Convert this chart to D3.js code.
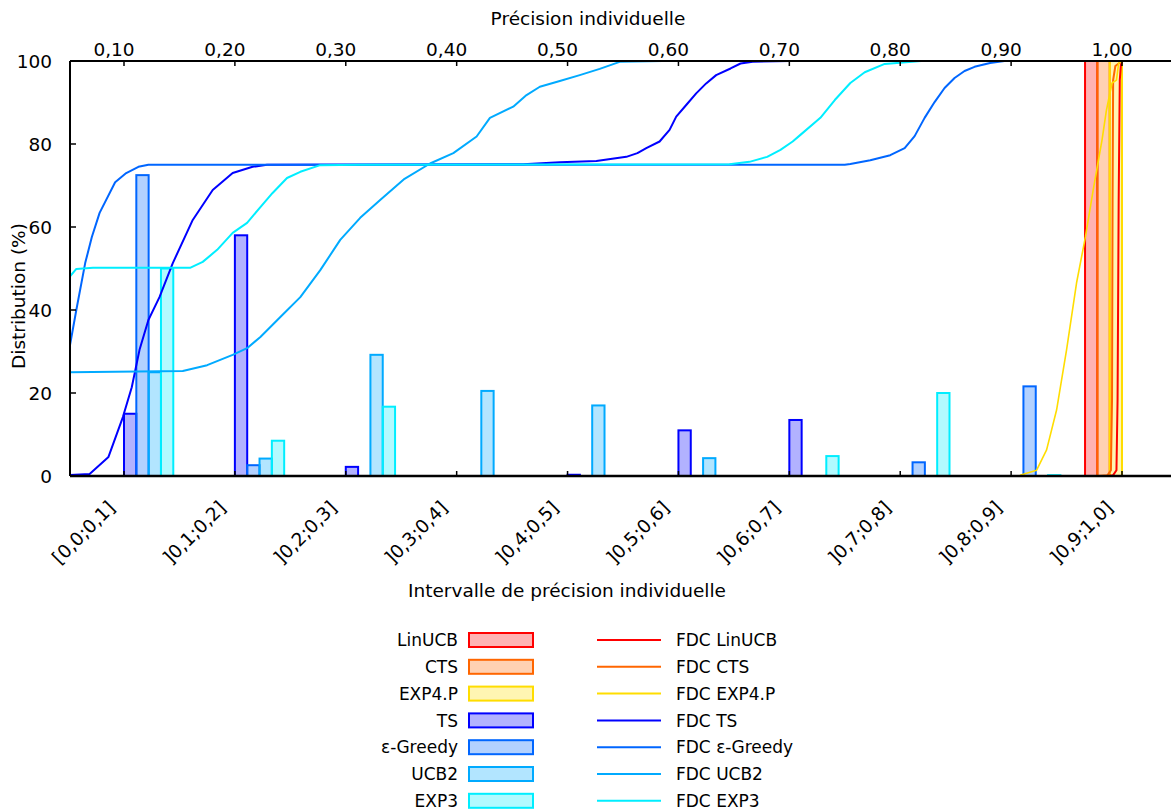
<!DOCTYPE html>
<html><head><meta charset="utf-8">
<script src="https://cdn.jsdelivr.net/npm/d3@7/dist/d3.min.js"></script>
<style>body{margin:0;background:#fff;} text{font-family:"DejaVu Sans",sans-serif;fill:#000;}</style>
</head><body>
<svg id="c" width="1171" height="812"></svg>
<script>
// ---------- DATA ----------
const categories = ["[0,0;0,1]","]0,1;0,2]","]0,2;0,3]","]0,3;0,4]","]0,4;0,5]","]0,5;0,6]","]0,6;0,7]","]0,7;0,8]","]0,8;0,9]","]0,9;1,0]"];
const seriesNames = ["LinUCB","CTS","EXP4.P","TS","ε-Greedy","UCB2","EXP3"];
const seriesColors = ["#ff0000","#ff6600","#ffdd00","#0000ff","#0066ff","#00aaff","#00eeff"];
const barLinUCB = [0,0,0,0,0,0,0,0,0,100];
const barCTS    = [0,0,0,0,0,0,0,0,0,100];
const barEXP4P  = [0,0,0,0,0,0,0,0,0,100];
const barTS     = [15,58,2.2,0,0.3,11,13.5,0,0,0];
const barEps    = [72.5,2.6,0,0,0,0,0,3.3,21.6,0];
const barUCB2   = [25,4.2,29.2,20.5,17,4.3,0,0,0,0];
const barEXP3   = [50,8.5,16.7,0,0,0,4.8,20,0.2,0];

// FDC curves: [precision, cumulative %]
const fdcLinUCB = [[0.985,0],[0.992,0.2],[0.995,1.4],[0.996,18.3],[0.997,66.5],[0.998,95.4],[0.999,99],[1.0,100]];
const fdcCTS    = [[0.978,0],[0.987,0.2],[0.990,1.4],[0.991,18.3],[0.9915,66.5],[0.992,95.4],[0.994,98.8],[1.0,100]];
const fdcEXP4P  = [[0.908,0.2],[0.923,1.4],[0.932,6.3],[0.941,15.9],[0.950,30.4],[0.959,46.5],[0.967,57.6],[0.974,68.9],[0.982,81],[0.986,88.2],[0.991,94.7],[0.995,95.4],[0.997,99.5],[1.0,100]];
const fdcTS     = [[0.050,0.2],[0.069,0.5],[0.086,4.6],[0.099,14.2],[0.107,21.4],[0.114,30.4],[0.122,37.6],[0.132,43.1],[0.144,51.3],[0.162,61.7],[0.180,68.9],[0.198,73],[0.216,74.5],[0.229,75],[0.460,75.1],[0.493,75.6],[0.526,75.9],[0.553,76.9],[0.563,77.8],[0.571,79],[0.583,80.6],[0.592,83.4],[0.598,86.6],[0.607,89.4],[0.616,92.2],[0.625,94.6],[0.634,96.6],[0.647,98.2],[0.656,99.4],[0.667,99.8],[0.700,100]];
const fdcEps    = [[0.050,29.6],[0.057,40],[0.065,51.3],[0.071,57.6],[0.078,63.4],[0.092,70.8],[0.102,73],[0.113,74.5],[0.122,75],[0.750,75],[0.755,75.2],[0.773,76.1],[0.791,77.3],[0.804,79],[0.813,81.9],[0.822,86.3],[0.831,90.1],[0.840,93.5],[0.849,95.9],[0.858,97.6],[0.867,98.6],[0.881,99.5],[0.894,100]];
const fdcUCB2   = [[0.050,25],[0.153,25.3],[0.175,26.7],[0.198,29.2],[0.211,30.8],[0.223,33.5],[0.241,38.3],[0.259,43.1],[0.277,49.6],[0.295,56.9],[0.313,62.2],[0.331,66.5],[0.353,71.6],[0.376,75.3],[0.397,77.8],[0.418,81.8],[0.430,86.3],[0.451,89],[0.463,91.8],[0.475,93.8],[0.493,95.2],[0.511,96.6],[0.529,98.1],[0.547,99.8],[0.586,100]];
const fdcEXP3   = [[0.050,47.7],[0.057,49.9],[0.072,50.2],[0.160,50.2],[0.171,51.6],[0.184,54.5],[0.198,58.6],[0.211,61],[0.223,64.8],[0.234,68.2],[0.247,71.8],[0.259,73.3],[0.277,74.9],[0.313,75],[0.646,75.1],[0.664,75.7],[0.680,76.9],[0.692,78.6],[0.703,80.6],[0.710,82.2],[0.728,86.3],[0.741,90.6],[0.755,94.7],[0.768,97.3],[0.786,99.3],[0.819,100]];

const yTicks = [0,20,40,60,80,100];
const x2Ticks = [0.1,0.2,0.3,0.4,0.5,0.6,0.7,0.8,0.9,1.0];
const x2TickLabels = ["0,10","0,20","0,30","0,40","0,50","0,60","0,70","0,80","0,90","1,00"];

const barSeries = [barLinUCB,barCTS,barEXP4P,barTS,barEps,barUCB2,barEXP3];
const fdcSeries = [fdcLinUCB,fdcCTS,fdcEXP4P,fdcTS,fdcEps,fdcUCB2,fdcEXP3];

// ---------- LAYOUT ----------
const L = 70, R = 1171, T = 61, B = 476;
const svg = d3.select("#c");
const xc = d3.scaleLinear().domain([0, 9]).range([124, 1122]);      // category units
const x2 = d3.scaleLinear().domain([0.1, 1.0]).range([124, 1122]);  // precision
const y = d3.scaleLinear().domain([0, 100]).range([B, T]);
const bw = 1/9;

svg.append("clipPath").attr("id","pc").append("rect")
  .attr("x",L).attr("y",T-2).attr("width",R-L).attr("height",B-T+4);
const plot = svg.append("g").attr("clip-path","url(#pc)");

// bars
barSeries.forEach((vals, j) => {
  plot.append("g").selectAll("rect").data(vals.map((v,i)=>({v,i})).filter(d=>d.v>0))
    .join("rect")
    .attr("x", d => xc(d.i + (j-3)*bw))
    .attr("width", d => xc(d.i + (j-2)*bw) - xc(d.i + (j-3)*bw))
    .attr("y", d => y(d.v))
    .attr("height", d => y(0) - y(d.v))
    .attr("fill", seriesColors[j]).attr("fill-opacity", 0.3)
    .attr("stroke", seriesColors[j]).attr("stroke-width", 2);
});

// FDC lines
const line = d3.line().x(d => x2(d[0])).y(d => y(d[1]));
fdcSeries.forEach((pts, j) => {
  plot.append("path").datum(pts).attr("d", line)
    .attr("fill","none").attr("stroke", seriesColors[j])
    .attr("stroke-width", j===2 ? 1.6 : 2).attr("stroke-linejoin","round");
});

// axes frame
const ax = svg.append("g").attr("stroke","#000").attr("stroke-width",2).attr("fill","none");
ax.append("line").attr("x1",L).attr("x2",R).attr("y1",B).attr("y2",B).attr("stroke-width",2.5);
ax.append("line").attr("x1",L).attr("x2",R).attr("y1",T).attr("y2",T);
ax.append("line").attr("x1",L).attr("x2",L).attr("y1",T).attr("y2",B);

// ticks
const tk = svg.append("g").attr("stroke","#000").attr("stroke-width",1.5);
yTicks.forEach(v => tk.append("line").attr("x1",L).attr("x2",L+6).attr("y1",y(v)).attr("y2",y(v)));
x2Ticks.forEach(v => tk.append("line").attr("x1",x2(v)).attr("x2",x2(v)).attr("y1",T).attr("y2",T+5));
categories.forEach((c,i) => tk.append("line").attr("x1",xc(i)).attr("x2",xc(i)).attr("y1",B).attr("y2",B-5));

// tick labels
const fs = 18.5, fl = 17;
yTicks.forEach(v => svg.append("text").attr("x",52).attr("y",y(v)).attr("dy","0.36em")
  .attr("text-anchor","end").attr("font-size",fs).text(v));
x2Ticks.forEach((v,k) => svg.append("text").attr("x",x2(v)-10).attr("y",56)
  .attr("text-anchor","middle").attr("font-size",fs).text(x2TickLabels[k]));
categories.forEach((c,i) => svg.append("text")
  .attr("transform",`translate(${xc(i)-8},${509}) rotate(-45)`)
  .attr("text-anchor","end").attr("font-size",fs).text(c));

// titles
svg.append("text").attr("x",588).attr("y",25).attr("text-anchor","middle").attr("font-size",fs).text("Précision individuelle");
svg.append("text").attr("x",567).attr("y",597).attr("text-anchor","middle").attr("font-size",fs).text("Intervalle de précision individuelle");
svg.append("text").attr("transform","translate(25,296) rotate(-90)").attr("text-anchor","middle").attr("font-size",fs).text("Distribution (%)");

// legend
const lg = svg.append("g");
seriesNames.forEach((n,k) => {
  const cy = 640 + k*26.8;
  lg.append("text").attr("x",458).attr("y",cy).attr("dy","0.36em").attr("text-anchor","end").attr("font-size",fl).text(n);
  lg.append("rect").attr("x",469).attr("y",cy-7).attr("width",64).attr("height",14)
    .attr("fill",seriesColors[k]).attr("fill-opacity",0.3).attr("stroke",seriesColors[k]).attr("stroke-width",2);
  lg.append("line").attr("x1",597).attr("x2",661).attr("y1",cy).attr("y2",cy)
    .attr("stroke",seriesColors[k]).attr("stroke-width",2);
  lg.append("text").attr("x",676).attr("y",cy).attr("dy","0.36em").attr("font-size",fl).text("FDC " + n);
});
</script>
</body></html>
